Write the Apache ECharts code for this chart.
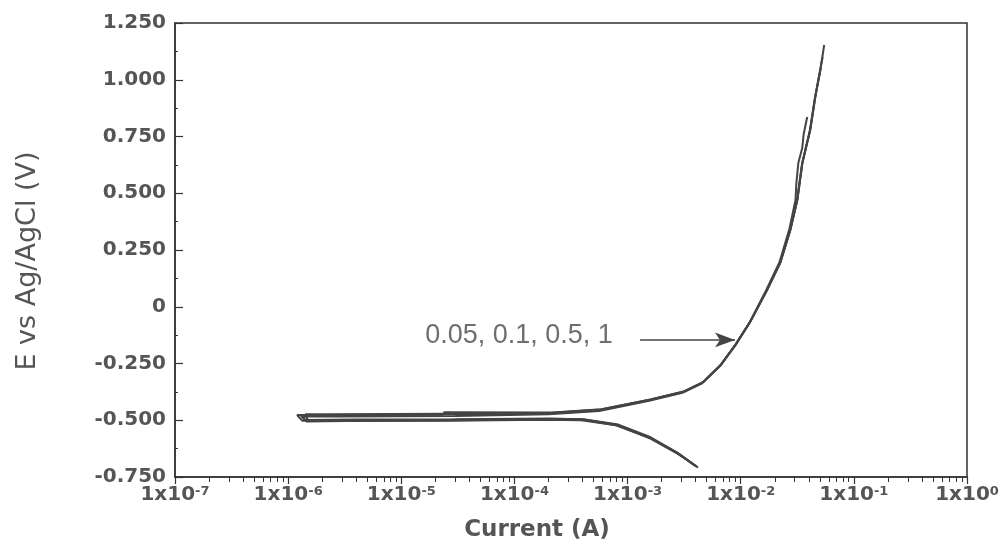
<!DOCTYPE html>
<html>
<head>
<meta charset="utf-8">
<script src="https://cdn.jsdelivr.net/npm/echarts@6/dist/echarts.min.js"></script>
<style>
  html, body { margin: 0; padding: 0; background: #ffffff; }
  #chart { width: 1004px; height: 560px; }
</style>
</head>
<body>
<div id="chart"></div>
<script>
// Potentiodynamic polarisation curves: [current (A), E vs Ag/AgCl (V)],
// each scanned from the cathodic end up through Ecorr and out along the anodic branch.
const curve005 = [
  [4.12e-3, -0.706], [2.75e-3, -0.644], [1.58e-3, -0.578], [8.1e-4, -0.521], [4.0e-4, -0.496],
  [2.0e-4, -0.494], [2.7e-5, -0.498], [3.5e-6, -0.499], [1.33e-6, -0.502],
  [1.2e-6, -0.477], [2.3e-6, -0.477], [2.4e-5, -0.474], [2.1e-4, -0.470], [5.7e-4, -0.456],
  [1.58e-3, -0.411], [3.1e-3, -0.376], [4.6e-3, -0.335], [6.6e-3, -0.260], [9.0e-3, -0.168],
  [1.21e-2, -0.067], [1.71e-2, 0.074], [2.23e-2, 0.193], [2.74e-2, 0.338], [3.16e-2, 0.470],
  [3.5e-2, 0.633], [4.11e-2, 0.779], [4.56e-2, 0.924], [5.05e-2, 1.043], [5.47e-2, 1.153]
];
const curve01 = [
  [3.95e-3, -0.700], [2.7e-3, -0.640], [1.6e-3, -0.575], [8.3e-4, -0.519], [4.2e-4, -0.497],
  [2.1e-4, -0.492], [3.0e-5, -0.496], [4.0e-6, -0.497], [1.4e-6, -0.499],
  [1.3e-6, -0.480], [2.6e-6, -0.479], [2.3e-5, -0.476], [2.4e-5, -0.465], [2.2e-4, -0.466],
  [5.9e-4, -0.452], [1.6e-3, -0.408], [3.2e-3, -0.372], [4.7e-3, -0.331], [6.7e-3, -0.255],
  [9.1e-3, -0.165], [1.22e-2, -0.063], [1.7e-2, 0.078], [2.2e-2, 0.196], [2.7e-2, 0.345],
  [3.05e-2, 0.470], [3.1e-2, 0.540], [3.23e-2, 0.633], [3.5e-2, 0.700], [3.6e-2, 0.760],
  [3.87e-2, 0.836]
];
const curve05 = [
  [4.05e-3, -0.703], [2.8e-3, -0.646], [1.55e-3, -0.576], [7.9e-4, -0.522], [3.9e-4, -0.500],
  [1.9e-4, -0.498], [2.5e-5, -0.502], [3.2e-6, -0.503], [1.45e-6, -0.505],
  [1.35e-6, -0.484], [3.0e-6, -0.483], [3.0e-5, -0.481], [2.0e-4, -0.474], [5.6e-4, -0.459],
  [1.55e-3, -0.414], [3.05e-3, -0.379], [4.5e-3, -0.338], [6.5e-3, -0.262], [8.9e-3, -0.171],
  [1.2e-2, -0.070], [1.69e-2, 0.070], [2.21e-2, 0.190], [2.72e-2, 0.333], [3.14e-2, 0.465],
  [3.48e-2, 0.628], [4.08e-2, 0.775], [4.52e-2, 0.918], [4.98e-2, 1.030], [5.3e-2, 1.100]
];
const curve1 = [
  [4.2e-3, -0.708], [2.78e-3, -0.648], [1.6e-3, -0.581], [8.2e-4, -0.523], [4.1e-4, -0.498],
  [2.05e-4, -0.496], [2.8e-5, -0.500], [3.8e-6, -0.501], [1.5e-6, -0.501],
  [1.42e-6, -0.474], [2.5e-6, -0.474], [2.5e-5, -0.471], [2.15e-4, -0.467], [5.8e-4, -0.453],
  [1.6e-3, -0.409], [3.15e-3, -0.373], [4.65e-3, -0.332], [6.65e-3, -0.257], [9.05e-3, -0.164],
  [1.22e-2, -0.064], [1.72e-2, 0.077], [2.25e-2, 0.196], [2.76e-2, 0.342], [3.18e-2, 0.475],
  [3.52e-2, 0.637], [4.13e-2, 0.782], [4.58e-2, 0.930], [5.1e-2, 1.050]
];
const seriesNames = ['0.05', '0.1', '0.5', '1'];
const seriesData = [curve005, curve01, curve05, curve1];

// Annotation: label text anchor and arrow span [current, E]
const noteText = '0.05, 0.1, 0.5, 1';
const noteAnchor = [7.4e-4, -0.128];
const arrowFrom = [1.29e-3, -0.146];
const arrowTo = [8.9e-3, -0.146];

// Axis ranges and tick settings
const xMin = 1e-7, xMax = 1;
const yMin = -0.75, yMax = 1.25, yStep = 0.25;
const minorMultipliers = [2, 3, 4, 5, 6, 7, 8, 9];

const minorLogPositions = [];
for (let e = -7; e < 0; e++) {
  minorMultipliers.forEach(m => minorLogPositions.push(Math.log10(m) + e));
}

const tickFont = { fontFamily: 'DejaVu Sans', fontWeight: 'bold', fontSize: 20, color: '#555' };
const axisColor = '#333';

const chart = echarts.init(document.getElementById('chart'), null, { renderer: 'canvas' });

const curveSeries = seriesData.map((d, i) => ({
  name: seriesNames[i],
  type: 'line',
  xAxisIndex: 0,
  data: d,
  showSymbol: false,
  symbol: 'none',
  lineStyle: { color: '#444', width: 2 },
  silent: true
}));

chart.setOption({
  animation: false,
  backgroundColor: '#ffffff',
  grid: {
    left: 175, right: 37, top: 23, bottom: 83,
    show: true, borderColor: axisColor, borderWidth: 1.5, backgroundColor: 'transparent'
  },
  xAxis: [
    {
      type: 'log',
      logBase: 10,
      min: xMin,
      max: xMax,
      position: 'bottom',
      name: 'Current (A)',
      nameLocation: 'middle',
      nameGap: 42,
      nameTextStyle: {
        fontFamily: 'DejaVu Sans', fontWeight: 'bold', fontSize: 23, color: '#555',
        padding: [0, 68, 0, 0]
      },
      axisLine: { show: true, onZero: false, lineStyle: { color: axisColor, width: 1.5 } },
      axisTick: { show: true, inside: false, length: 7, lineStyle: { color: axisColor, width: 1.2 } },
      splitLine: { show: false },
      axisLabel: {
        margin: 8,
        formatter: v => '{b|1x10}{s|' + Math.round(Math.log10(v)) + '}',
        rich: {
          b: Object.assign({}, tickFont),
          s: { fontFamily: 'DejaVu Sans', fontWeight: 'bold', fontSize: 13, color: '#555', verticalAlign: 'top', padding: [0, 0, 7, 0] }
        }
      }
    },
    {
      // minor decade subdivisions, placed in log10 space
      type: 'value',
      min: -7,
      max: 0,
      position: 'bottom',
      axisLine: { show: false, onZero: false },
      axisLabel: { show: false },
      splitLine: { show: false },
      axisTick: {
        show: true, inside: false, length: 5,
        customValues: minorLogPositions,
        lineStyle: { color: axisColor, width: 1 }
      }
    }
  ],
  yAxis: {
    type: 'value',
    min: yMin,
    max: yMax,
    interval: yStep,
    position: 'left',
    name: 'E vs Ag/AgCl (V)',
    nameLocation: 'middle',
    nameRotate: 90,
    nameGap: 134,
    nameTextStyle: {
      fontFamily: 'DejaVu Sans', fontSize: 27, color: '#555',
      padding: [0, 22, 0, 0]
    },
    axisLine: { show: true, onZero: false, lineStyle: { color: axisColor, width: 1.5 } },
    axisTick: { show: true, inside: true, length: 8, lineStyle: { color: axisColor, width: 1.2 } },
    minorTick: { show: true, splitNumber: 2, length: 3, lineStyle: { color: axisColor, width: 1 } },
    splitLine: { show: false },
    axisLabel: Object.assign({
      margin: 9,
      formatter: v => (Math.abs(v) < 1e-9 ? '0' : v.toFixed(3))
    }, tickFont)
  },
  series: curveSeries.concat([
    {
      name: 'note',
      type: 'scatter',
      xAxisIndex: 0,
      data: [noteAnchor],
      symbolSize: 0,
      silent: true,
      label: {
        show: true,
        position: 'left',
        distance: 0,
        formatter: noteText,
        fontFamily: 'Liberation Sans',
        fontSize: 27,
        color: '#4a4a4a'
      },
      markLine: {
        silent: true,
        symbol: ['none', 'arrow'],
        symbolSize: [11, 20],
        label: { show: false },
        lineStyle: { color: '#444', width: 1.6, type: 'solid' },
        data: [[{ coord: arrowFrom }, { coord: arrowTo }]]
      }
    }
  ])
});
</script>
</body>
</html>
